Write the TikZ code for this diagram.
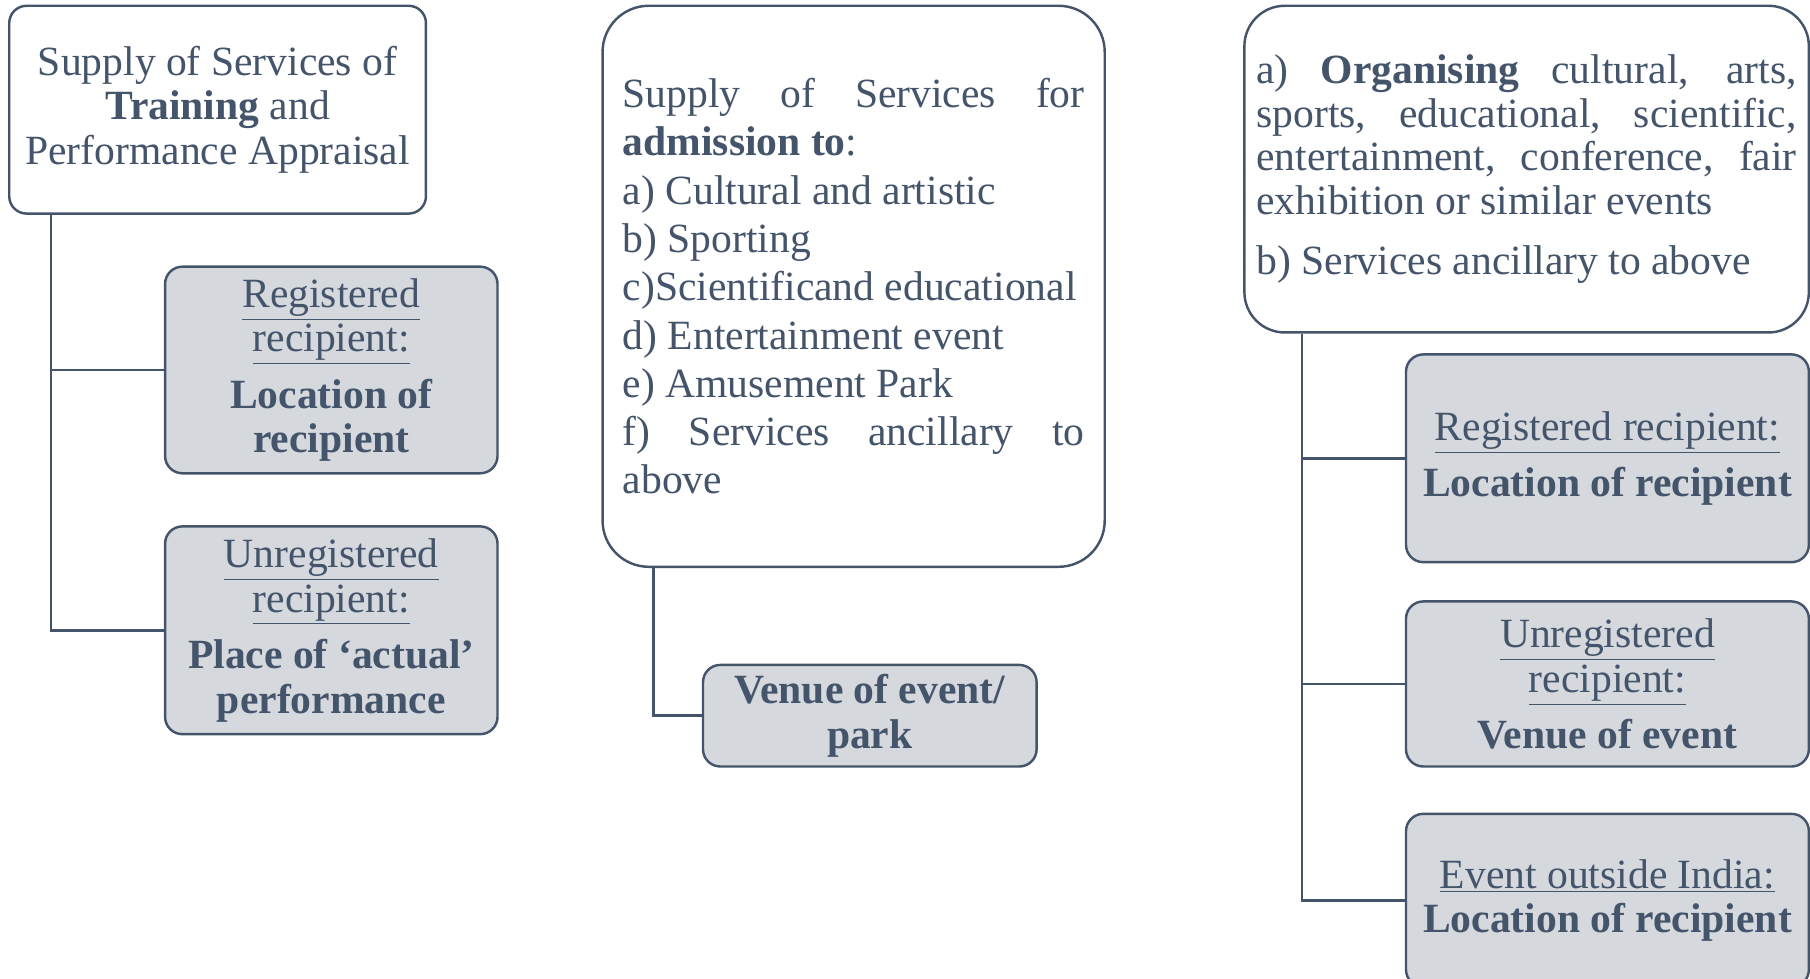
\documentclass[tikz,border=0pt]{standalone}
\usepackage{fontspec}
\setmainfont{Liberation Serif}
\usepackage{tikz}
\usetikzlibrary{positioning}
\definecolor{slateC}{HTML}{44546A}
\definecolor{ruleC}{HTML}{D5D8DD}
\setlength{\parindent}{0pt}
\hyphenpenalty=10000

\begin{document}
\begin{tikzpicture}[scale=1.0,
  font=\fontsize{20.5}{22}\selectfont, text=slateC,
  headbox/.style={draw=slateC, line width=1.2pt, fill=white, shape=rectangle, rounded corners=0.3cm, align=center},
  rulebox/.style={draw=slateC, line width=1.2pt, fill=ruleC, shape=rectangle, rounded corners=0.3cm, align=center},
  link/.style={draw=slateC, line width=1.2pt}]
\useasboundingbox (0cm,0cm) rectangle (31.36cm,-16.96cm);

\node[headbox, minimum width=7.22cm, minimum height=3.6cm]
(supplyA) at (3.77cm,-1.9cm) {Supply of Services of\\\textbf{Training} and\\Performance Appraisal};
\node[rulebox, minimum width=5.76cm, minimum height=3.58cm]
(regA) at (5.74cm,-6.41cm) {\underline{Registered}\\\underline{recipient:}\\[0.2cm]\textbf{Location of}\\\textbf{recipient}};
\node[rulebox, minimum width=5.76cm, minimum height=3.6cm]
(unregA) at (5.74cm,-10.92cm) {\underline{Unregistered}\\\underline{recipient:}\\[0.2cm]\textbf{Place of ‘actual’}\\\textbf{performance}};

\node[headbox, rounded corners=0.8cm, minimum width=8.7cm, minimum height=9.72cm, text width=8.0cm, align=justify, font=\fontsize{20.5}{23.8}\selectfont]
(admitB) at (14.79cm,-4.96cm) {Supply of Services for\linebreak \textbf{admission to}:\newline a) Cultural and artistic\newline b) Sporting\newline c)Scientificand educational\newline d) Entertainment event\newline e) Amusement Park\newline f) Services ancillary to\linebreak above};
\node[rulebox, minimum width=5.78cm, minimum height=1.76cm]
(venueC) at (15.07cm,-12.4cm) {\textbf{Venue of event/}\\\textbf{park}};

\node[headbox, rounded corners=0.7cm, minimum width=9.78cm, minimum height=5.66cm, text width=9.36cm, align=justify, font=\fontsize{20.5}{21.6}\selectfont]
(organD) at (26.45cm,-2.93cm) {a) \textbf{Organising} cultural, arts,\linebreak sports, educational, scientific,\linebreak entertainment, conference, fair\linebreak exhibition or similar events\par\vspace{0.28cm}b) Services ancillary to above};
\node[rulebox, minimum width=6.98cm, minimum height=3.6cm]
(regE) at (27.85cm,-7.94cm) {\underline{Registered recipient:}\\[0.2cm]\textbf{Location of recipient}};
\node[rulebox, minimum width=6.98cm, minimum height=2.86cm]
(unregF) at (27.85cm,-11.85cm) {\underline{Unregistered}\\\underline{recipient:}\\[0.2cm]\textbf{Venue of event}};
\node[rulebox, minimum width=6.98cm, minimum height=3.0cm]
(abroadG) at (27.85cm,-15.6cm) {\underline{Event outside India:}\\\textbf{Location of recipient}};

\coordinate (trunkA) at (0.88cm,0cm);
\coordinate (trunkB) at (11.32cm,0cm);
\coordinate (trunkD) at (22.56cm,0cm);
\draw[link] (trunkA |- supplyA.south) |- (regA.west);
\draw[link] (trunkA |- supplyA.south) |- (unregA.west);
\draw[link] (trunkB |- admitB.south) |- (venueC.west);
\draw[link] (trunkD |- organD.south) |- (regE.west);
\draw[link] (trunkD |- organD.south) |- (unregF.west);
\draw[link] (trunkD |- organD.south) |- (abroadG.west);

\end{tikzpicture}
\end{document}
